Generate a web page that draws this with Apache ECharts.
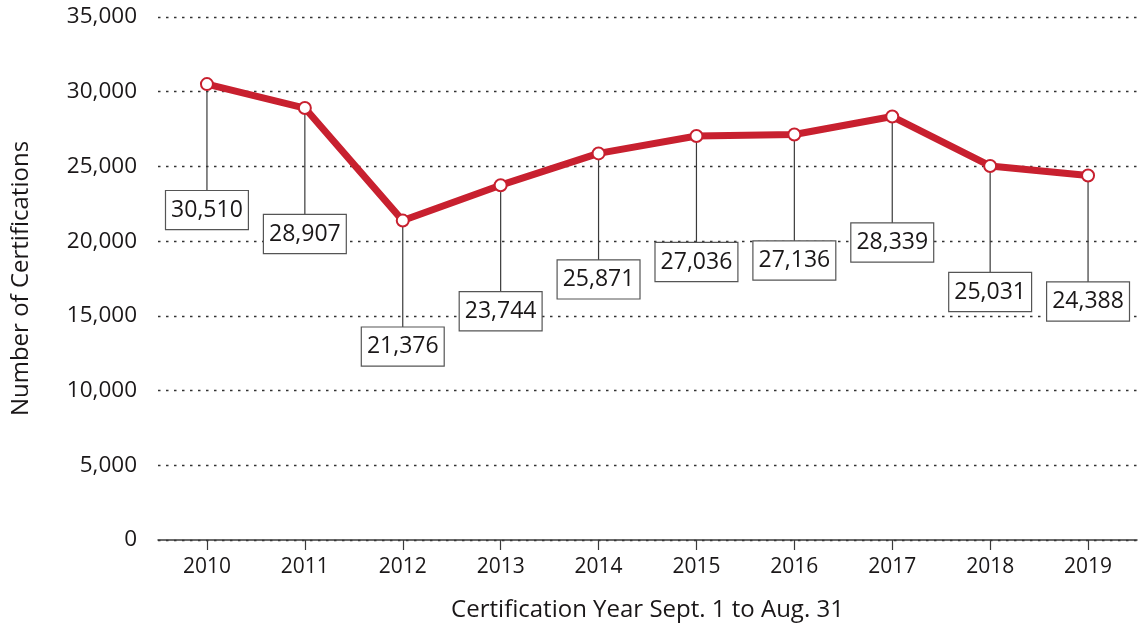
<!DOCTYPE html>
<html>
<head>
<meta charset="utf-8">
<script src="https://cdn.jsdelivr.net/npm/echarts@6/dist/echarts.min.js"></script>
<style>
html,body{margin:0;padding:0;background:#fff;}
#main{width:1142px;height:629px;}
</style>
</head>
<body>
<div id="main"></div>
<script>
const years = ['2010','2011','2012','2013','2014','2015','2016','2017','2018','2019'];
const certifications = [30510, 28907, 21376, 23744, 25871, 27036, 27136, 28339, 25031, 24388];
const yTicks = {min: 0, max: 35000, interval: 5000};

const FONT = '"Open Sans", sans-serif';
const TXT = '#1a1718';
const RED = '#c8202f';
const LABEL_DY = 126;

const chart = echarts.init(document.getElementById('main'));
chart.setOption({
  backgroundColor: '#fff',
  animation: false,
  grid: {left: 158, right: 5, top: 17, bottom: 89, containLabel: false},
  xAxis: {
    type: 'category',
    data: years,
    boundaryGap: true,
    name: 'Certification Year Sept. 1 to Aug. 31',
    nameLocation: 'middle',
    nameGap: 58,
    nameTextStyle: {fontFamily: FONT, fontSize: 24, color: TXT},
    axisLine: {show: true, lineStyle: {color: '#3a3a3a', width: 1.5}},
    axisTick: {show: true, alignWithLabel: true, length: 10, lineStyle: {color: '#3a3a3a', width: 1.2}},
    axisLabel: {fontFamily: FONT, fontSize: 21, color: TXT, margin: 17},
    splitLine: {show: false}
  },
  yAxis: {
    type: 'value',
    min: yTicks.min, max: yTicks.max, interval: yTicks.interval,
    name: 'Number of Certifications',
    nameLocation: 'middle',
    nameGap: 125,
    nameRotate: 90,
    nameTextStyle: {fontFamily: FONT, fontSize: 24, color: TXT},
    axisLine: {show: false},
    axisTick: {show: false},
    axisLabel: {
      fontFamily: FONT, fontSize: 22.5, color: TXT, margin: 21,
      formatter: v => v.toLocaleString('en-US')
    },
    splitLine: {show: true, lineStyle: {color: '#333', width: 1.3, type: [2.5, 5.5]}}
  },
  series: [
    {
      type: 'custom',
      z: 1,
      silent: true,
      data: certifications.map((v, i) => [i, v]),
      renderItem: function (params, api) {
        const p = api.coord([api.value(0), api.value(1)]);
        return {
          type: 'line',
          shape: {x1: p[0], y1: p[1], x2: p[0], y2: p[1] + LABEL_DY},
          style: {stroke: '#3a3a3a', lineWidth: 1.2}
        };
      }
    },
    {
      type: 'line',
      z: 3,
      data: certifications,
      symbol: 'circle',
      symbolSize: 12,
      showAllSymbol: true,
      lineStyle: {color: RED, width: 7},
      itemStyle: {color: '#fff', borderColor: RED, borderWidth: 2},
      label: {
        show: true,
        position: 'inside',
        offset: [0, LABEL_DY],
        formatter: p => p.value.toLocaleString('en-US'),
        fontFamily: FONT, fontSize: 23, color: TXT,
        backgroundColor: '#fff',
        borderColor: '#555', borderWidth: 1.2,
        padding: [5, 5, 4, 5],
        lineHeight: 29
      }
    }
  ]
});
</script>
</body>
</html>
